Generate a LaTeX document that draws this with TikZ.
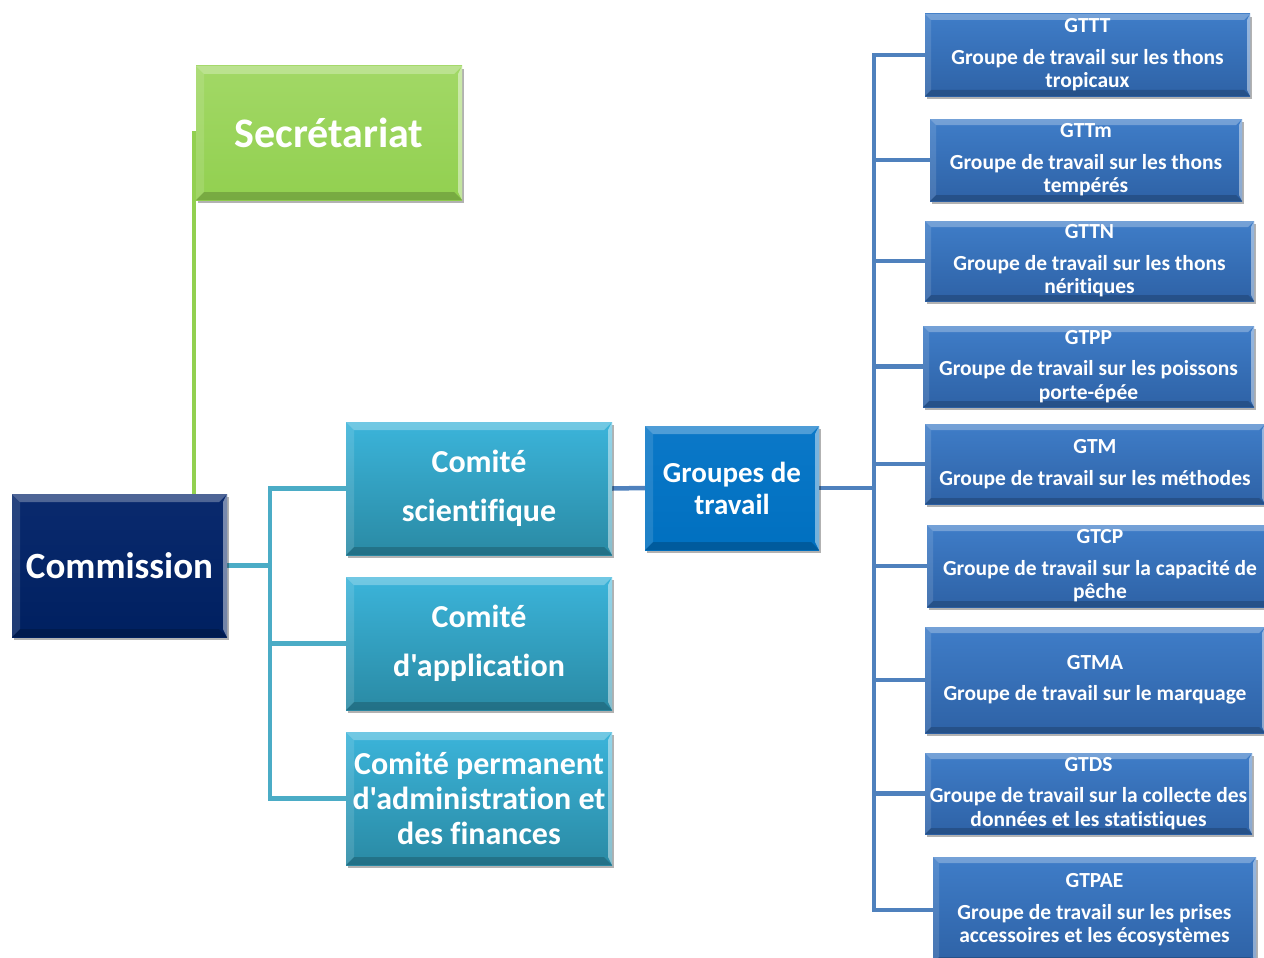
\documentclass[tikz,border=0pt]{standalone}
\usepackage{fontspec}
\setmainfont{Carlito}[Ligatures={NoCommon,TeXOff}]
\usetikzlibrary{shadows,backgrounds}

\definecolor{secgreen}{HTML}{92D050}
\definecolor{secgreentop}{HTML}{A2D866}
\definecolor{navy}{HTML}{002060}
\definecolor{navytop}{HTML}{0A2A6E}
\definecolor{teal1}{HTML}{3BB4DA}
\definecolor{teal2}{HTML}{2A8AA4}
\definecolor{midblue}{HTML}{0070C0}
\definecolor{midbluetop}{HTML}{0B78C8}
\definecolor{wgtop}{HTML}{3F7DC8}
\definecolor{wgbot}{HTML}{2E62A6}
\definecolor{lnteal}{HTML}{4BACC6}
\definecolor{lnblue}{HTML}{4F81BD}

\tikzset{
  x=1pt, y=-1pt,
  bevel/.style={path picture={
    \coordinate (pnw) at (path picture bounding box.north west);
    \coordinate (pne) at (path picture bounding box.north east);
    \coordinate (psw) at (path picture bounding box.south west);
    \coordinate (pse) at (path picture bounding box.south east);
    % top, left, right and bottom facets of the bevel
    \fill[white,opacity=.28] (pnw) -- (pne) -- ([shift={(-#1,-#1)}]pne) -- ([shift={(#1,-#1)}]pnw) -- cycle;
    \fill[white,opacity=.12] (pnw) -- (psw) -- ([shift={(#1,#1)}]psw) -- ([shift={(#1,-#1)}]pnw) -- cycle;
    \fill[white,opacity=.45] (pne) -- (pse) -- ([shift={(-#1/2,#1)}]pse) -- ([shift={(-#1/2,-#1)}]pne) -- cycle;
    \fill[black,opacity=.18] (psw) -- (pse) -- ([shift={(-#1,#1)}]pse) -- ([shift={(#1,#1)}]psw) -- cycle;
  }},
  box/.style={rectangle, inner sep=0pt, text=white, font=\bfseries, align=center,
    drop shadow={shadow xshift=2pt, shadow yshift=-3pt, opacity=.3, fill=black},
    bevel=8pt},
  secbox/.style={box, top color=secgreentop, bottom color=secgreen,
    minimum width=266pt, minimum height=134pt, font=\bfseries\fontsize{42}{48}\selectfont},
  commbox/.style={box, top color=navytop, bottom color=navy,
    minimum width=215pt, minimum height=143pt, font=\bfseries\fontsize{37}{44}\selectfont},
  comitebox/.style={box, top color=teal1, bottom color=teal2,
    minimum width=266pt, minimum height=133pt, font=\bfseries\fontsize{32}{35}\selectfont},
  gtbox/.style={box, top color=midbluetop, bottom color=midblue,
    minimum width=174pt, minimum height=124pt, font=\bfseries\fontsize{29}{32}\selectfont},
  wgbox/.style={box, top color=wgtop, bottom color=wgbot, bevel=6pt,
    font=\bfseries\fontsize{21.5}{23.5}\selectfont},
  greenline/.style={draw=secgreen, line width=4.5pt},
  tealline/.style={draw=lnteal, line width=4.5pt},
  blueline/.style={draw=lnblue, line width=4.5pt},
}

\begin{document}
\begin{tikzpicture}
\useasboundingbox (0,0) rectangle (1264,958);

% main bodies
\node[secbox] (sec) at (329,133) {Secrétariat};
\node[commbox] (comm) at (119.5,565.5) {Commission};
\node[comitebox] (cs) at (479,488.5) {Comité\\[14pt]scientifique};
\node[comitebox] (ca) at (479,643.5) {Comité\\[14pt]d'application};
\node[comitebox] (cp) at (479,798.5) {Comité permanent\\d'administration et\\des finances};
\node[gtbox] (gt) at (732,488) {Groupes de\\travail};

% working groups
\node[wgbox, minimum width=325pt, minimum height=82pt] (g1) at (1087.5,55)
  {GTTT\\[8pt]Groupe de travail sur les thons\\tropicaux};
\node[wgbox, minimum width=312pt, minimum height=82pt] (g2) at (1086,160)
  {GTTm\\[8pt]Groupe de travail sur les thons\\tempérés};
\node[wgbox, minimum width=329pt, minimum height=80pt] (g3) at (1089.5,261)
  {GTTN\\[8pt]Groupe de travail sur les thons\\néritiques};
\node[wgbox, minimum width=331pt, minimum height=81pt] (g4) at (1088.5,366.5)
  {GTPP\\[8pt]Groupe de travail sur les poissons\\porte-épée};
\node[wgbox, minimum width=340pt, minimum height=80pt] (g5) at (1095,464)
  {GTM\\[8pt]Groupe de travail sur les méthodes};
\node[wgbox, minimum width=346pt, minimum height=82pt] (g6) at (1100,566)
  {GTCP\\[8pt]Groupe de travail sur la capacité de\\pêche};
\node[wgbox, minimum width=340pt, minimum height=106pt] (g7) at (1095,680)
  {GTMA\\[8pt]Groupe de travail sur le marquage};
\node[wgbox, minimum width=327pt, minimum height=81pt] (g8) at (1088.5,793.5)
  {GTDS\\[8pt]Groupe de travail sur la collecte des\\données et les statistiques};
\node[wgbox, minimum width=323pt, minimum height=106pt] (g9) at (1094.5,910)
  {GTPAE\\[8pt]Groupe de travail sur les prises\\accessoires et les écosystèmes};

% connectors, behind the boxes
\begin{pgfonlayer}{background}
  \draw[greenline] ([xshift=-2pt]comm.north -| sec.west) |- (sec.west);

  \draw[tealline] (comm.east) -- ++(43pt,0) coordinate (cj);
  \foreach \c in {cs,ca,cp} \draw[tealline] (cj) |- (\c.west);

  \draw[blueline] (cs.east) -- (gt.west);
  \draw[blueline] (gt.east) -- (gt.east -| 874,0) coordinate (bj);
  \foreach \g in {g1,g2,g3,g4,g5,g6,g7,g8,g9} \draw[blueline] (bj) |- (\g.west);
\end{pgfonlayer}
\end{tikzpicture}
\end{document}
